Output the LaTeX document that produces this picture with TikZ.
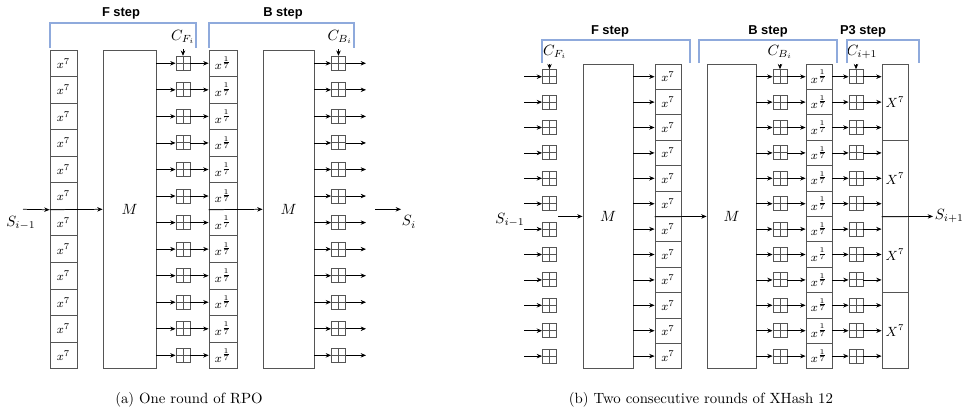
\documentclass[tikz,border=0pt]{standalone}
\usepackage{fontspec}
\newfontfamily\stepfont{Liberation Sans}
\usepackage{amsmath}
\usetikzlibrary{calc,arrows.meta}

\definecolor{stepblue}{RGB}{143,170,220}
\definecolor{boxgray}{RGB}{85,85,85}
\newcommand{\px}{0.675pt}

\tikzset{
    cell/.style={draw=boxgray, line width=0.6pt, inner sep=0pt, font=\footnotesize},
    mixbox/.style={draw=boxgray, line width=0.6pt, inner sep=0pt},
    addbox/.style={draw=boxgray, line width=0.6pt, inner sep=0pt, minimum size=14*\px,
        path picture={\draw[boxgray, line width=0.6pt]
            (path picture bounding box.north) -- (path picture bounding box.south)
            (path picture bounding box.west) -- (path picture bounding box.east);}},
    bracketline/.style={draw=stepblue, line width=0.9pt},
    steplabel/.style={font=\stepfont\fontsize{8.7}{10}\selectfont\bfseries},
    flow/.style={->, line width=0.5pt},
}

\begin{document}
\begin{tikzpicture}[>={Stealth[length=3.6pt,width=3pt]}, x=\px, y=-\px]
    \useasboundingbox (0,0) rectangle (965,418);

    % --- 1. 変数定義 ---
    \pgfmathsetmacro{\ya}{50}
    \pgfmathsetmacro{\ha}{26.55}
    \pgfmathsetmacro{\yb}{64}
    \pgfmathsetmacro{\hb}{25.4}

    % --- 2. (a) RPO の一ラウンド ---
    \node[mixbox, minimum width=53*\px, minimum height=12*\ha*\px] (a-M1) at (129.5,{\ya+6*\ha}) {$M$};
    \node[mixbox, minimum width=51*\px, minimum height=12*\ha*\px] (a-M2) at (288.5,{\ya+6*\ha}) {$M$};
    \foreach \k in {1,2,...,12} {
        \pgfmathsetmacro{\yk}{\ya+(\k-0.5)*\ha}
        \node[cell, minimum width=27*\px, minimum height=\ha*\px] (a-s\k) at (63.5,\yk) {$x^7$};
        \node[addbox] (a-p\k) at (183,\yk) {};
        \node[cell, minimum width=28*\px, minimum height=\ha*\px] (a-r\k) at (223,\yk) {$x^{\frac{1}{7}}$};
        \node[addbox] (a-q\k) at (338.5,\yk) {};
        \coordinate (a-o\k) at (366,\yk);
        \draw[flow] (a-M1.east |- a-p\k) -- (a-p\k.west);
        \draw[flow] (a-p\k) -- (a-r\k);
        \draw[flow] (a-M2.east |- a-q\k) -- (a-q\k.west);
        \draw[flow] (a-q\k) -- (a-o\k);
    }

    % 入力と出力
    \coordinate (a-in) at (23,{\ya+6*\ha});
    \coordinate (a-out0) at (375,{\ya+6*\ha});
    \coordinate (a-out1) at (401,{\ya+6*\ha});
    \draw[flow] (a-in) -- (a-s6.south west);
    \draw[flow] (a-s6.south west) -- (a-M1.west);
    \draw[flow] (a-r6.south west) -- (a-M2.west);
    \draw[flow] (a-out0) -- (a-out1);
    \node (a-sin) at (21,223) {$S_{i-1}$};
    \node (a-sout) at (409,222) {$S_i$};

    % 定数
    \node (a-cf) at (183,37) {$C_{F_i}$};
    \node (a-cb) at (340,37) {$C_{B_i}$};
    \coordinate (a-cft) at (183,49);
    \coordinate (a-cbt) at (338.5,49);
    \draw[flow] (a-cft) -- (a-p1);
    \draw[flow] (a-cbt) -- (a-q1);

    % ステップの括弧
    \draw[bracketline] (50,48) -- (50,23) -- (196,23) -- (196,48);
    \draw[bracketline] (209,48) -- (209,23) -- (354,23) -- (354,48);
    \node[steplabel] (a-fstep) at (121,13) {F step};
    \node[steplabel] (a-bstep) at (283,13) {B step};

    % --- 3. (b) XHash 12 の二ラウンド ---
    \node[mixbox, minimum width=50*\px, minimum height=12*\hb*\px] (b-M1) at (608,{\yb+6*\hb}) {$M$};
    \node[mixbox, minimum width=49*\px, minimum height=12*\hb*\px] (b-M2) at (731.5,{\yb+6*\hb}) {$M$};
    \foreach \j in {1,2,3,4} {
        \node[cell, font=\small, minimum width=26*\px, minimum height=3*\hb*\px] (b-X\j) at (895,{\yb+(3*\j-1.5)*\hb}) {$X^7$};
    }
    \foreach \k in {1,2,...,12} {
        \pgfmathsetmacro{\yk}{\yb+(\k-0.5)*\hb}
        \coordinate (b-i\k) at (524,\yk);
        \node[addbox] (b-p\k) at (549.5,\yk) {};
        \node[cell, minimum width=26*\px, minimum height=\hb*\px] (b-s\k) at (668,\yk) {$x^7$};
        \node[addbox] (b-q\k) at (780,\yk) {};
        \node[cell, minimum width=26*\px, minimum height=\hb*\px] (b-r\k) at (819,\yk) {$x^{\frac{1}{7}}$};
        \node[addbox] (b-t\k) at (856,\yk) {};
        \draw[flow] (b-i\k) -- (b-p\k);
        \draw[flow] (b-M1.east |- b-s\k) -- (b-s\k.west);
        \draw[flow] (b-M2.east |- b-q\k) -- (b-q\k.west);
        \draw[flow] (b-q\k) -- (b-r\k);
        \draw[flow] (b-r\k) -- (b-t\k);
        \draw[flow] (b-t\k) -- (b-X1.west |- b-t\k);
    }

    % 入力と出力
    \coordinate (b-in) at (558,{\yb+6*\hb});
    \coordinate (b-out) at (933,{\yb+6*\hb});
    \draw[flow] (b-in) -- (b-M1.west);
    \draw[flow] (b-s6.south west) -- (b-M2.west);
    \draw[flow] (b-X2.south west) -- (b-out);
    \node (b-sin) at (510,220) {$S_{i-1}$};
    \node[right, inner sep=1pt] (b-sout) at (b-out) {$S_{i+1}$};

    % 定数
    \node (b-cf) at (555,52) {$C_{F_i}$};
    \node (b-cb) at (780,52) {$C_{B_i}$};
    \node (b-cp) at (862,52) {$C_{i+1}$};
    \coordinate (b-cft) at (549.5,64);
    \coordinate (b-cbt) at (780,64);
    \coordinate (b-cpt) at (856,64);
    \draw[flow] (b-cft) -- (b-p1);
    \draw[flow] (b-cbt) -- (b-q1);
    \draw[flow] (b-cpt) -- (b-t1);

    % ステップの括弧
    \draw[bracketline] (542,63) -- (542,40) -- (690,40) -- (690,63);
    \draw[bracketline] (699,63) -- (699,40) -- (837,40) -- (837,63);
    \draw[bracketline] (847,63) -- (847,40) -- (919,40) -- (919,63);
    \node[steplabel] (b-fstep) at (610,31) {F step};
    \node[steplabel] (b-bstep) at (768,31) {B step};
    \node[steplabel] (b-pstep) at (863,31) {P3 step};

    % --- 4. キャプション ---
    \node (a-cap) at (189,400) {(a) One round of RPO};
    \node (b-cap) at (701,400) {(b) Two consecutive rounds of XHash 12};

\end{tikzpicture}
\end{document}
